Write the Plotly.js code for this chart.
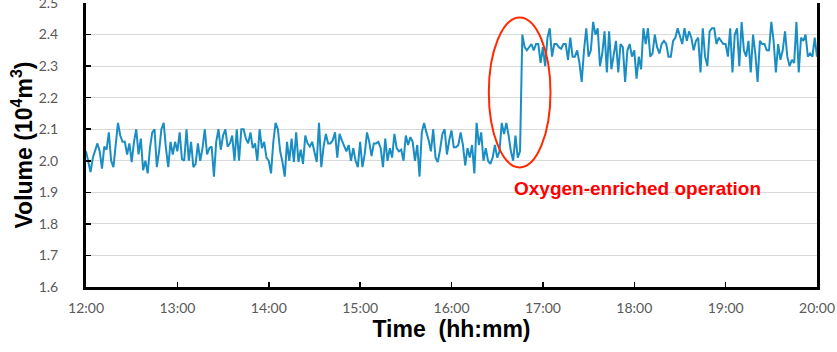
<!DOCTYPE html>
<html>
<head>
<meta charset="utf-8">
<script src="https://cdn.plot.ly/plotly-3.0.1.min.js"></script>
<style>
  html, body { margin: 0; padding: 0; background: #ffffff; }
  #chart { width: 837px; height: 352px; }
</style>
</head>
<body>
<div id="chart"></div>
<script>
// Gas volume readings, one every 1.5 minutes, grouped by hour (hh:00 .. hh:58.5)
const vol12 = [2.03, 2.0, 1.964, 2.01, 2.03, 2.055, 2.03, 1.975, 2.045, 2.035,
               2.09, 2.0, 1.98, 2.05, 2.12, 2.08, 2.06, 2.06, 2.02, 2.055,
               1.996, 2.06, 2.1, 2.02, 2.07, 1.97, 2.0, 1.96, 2.04, 2.09,
               2.1, 1.98, 2.03, 2.1, 2.12, 2.04, 1.98, 2.06, 2.02, 2.06];
const vol13 = [2.03, 2.09, 2.006, 2.0, 2.1, 2.0, 2.06, 1.98, 1.99, 2.055,
               2.0, 2.04, 2.1, 2.02, 2.04, 2.045, 1.95, 2.06, 2.1, 2.035,
               2.08, 2.1, 2.045, 2.055, 2.08, 2.0, 2.1, 2.0, 2.1, 2.1,
               2.07, 2.055, 2.09, 2.04, 2.055, 2.0, 2.1, 2.04, 2.06, 2.01];
const vol14 = [2.0, 1.96, 2.06, 2.12, 2.10, 2.03, 1.996, 1.95, 2.06, 2.0,
               2.07, 1.996, 2.09, 1.996, 2.035, 1.99, 2.08, 2.055, 2.045, 2.06,
               2.03, 1.996, 2.12, 1.98, 2.045, 2.085, 2.055, 2.055, 2.065, 2.09,
               2.01, 2.085, 2.065, 2.045, 2.03, 2.05, 2.0, 2.04, 2.0, 1.98];
const vol15 = [2.06, 1.98, 2.02, 2.09, 2.06, 2.015, 2.055, 2.055, 2.06, 2.04,
               1.98, 2.07, 2.0, 2.04, 2.01, 2.085, 2.04, 2.03, 2.035, 2.0,
               2.08, 2.05, 2.075, 2.06, 2.0, 2.05, 1.95, 2.09, 2.12, 2.09,
               2.065, 2.03, 2.10, 2.01, 1.996, 2.035, 2.085, 2.10, 2.02, 2.065];
const vol16 = [2.096, 2.043, 2.043, 2.05, 2.09, 2.05, 1.985, 2.04, 2.01, 2.05,
               1.96, 2.12, 2.05, 2.09, 2.0, 2.04, 2.0, 1.99, 2.01, 2.05,
               2.01, 2.03, 2.12, 2.085, 2.12, 2.08, 2.03, 2.0, 2.08, 2.01,
               2.03, 2.40, 2.36, 2.35, 2.36, 2.37, 2.35, 2.37, 2.37, 2.31];
const vol17 = [2.36, 2.30, 2.39, 2.42, 2.33, 2.37, 2.37, 2.36, 2.355, 2.37,
               2.37, 2.32, 2.39, 2.33, 2.33, 2.35, 2.31, 2.25, 2.35, 2.42,
               2.33, 2.35, 2.44, 2.40, 2.42, 2.30, 2.34, 2.41, 2.28, 2.41,
               2.29, 2.34, 2.38, 2.28, 2.37, 2.36, 2.25, 2.35, 2.37, 2.33];
const vol18 = [2.35, 2.26, 2.33, 2.29, 2.42, 2.37, 2.42, 2.33, 2.34, 2.40,
               2.36, 2.34, 2.37, 2.38, 2.37, 2.33, 2.33, 2.38, 2.39, 2.42,
               2.39, 2.37, 2.42, 2.38, 2.41, 2.39, 2.35, 2.38, 2.39, 2.28,
               2.42, 2.33, 2.30, 2.41, 2.42, 2.42, 2.37, 2.39, 2.38, 2.37];
const vol19 = [2.37, 2.33, 2.42, 2.28, 2.40, 2.42, 2.30, 2.44, 2.35, 2.33,
               2.38, 2.28, 2.40, 2.34, 2.25, 2.38, 2.37, 2.37, 2.35, 2.35,
               2.44, 2.38, 2.28, 2.37, 2.32, 2.35, 2.41, 2.33, 2.30, 2.32,
               2.31, 2.44, 2.28, 2.39, 2.38, 2.40, 2.33, 2.34, 2.33, 2.39];
const vol20 = [2.33];

const hourBlocks = [[12, vol12], [13, vol13], [14, vol14], [15, vol15],
                    [16, vol16], [17, vol17], [18, vol18], [19, vol19], [20, vol20]];
const stepSeconds = 90;
const day = '2024-01-01';

const tickLabels = ['12:00', '13:00', '14:00', '15:00', '16:00', '17:00', '18:00', '19:00', '20:00'];
const yTicks = [1.6, 1.7, 1.8, 1.9, 2.0, 2.1, 2.2, 2.3, 2.4, 2.5];

const noteText = 'Oxygen-enriched operation';
const noteAt = { t: '18:02:00', v: 1.912 };
// Ring around the switch-over
const ring = { t0: '16:24:30', t1: '17:05:00', v0: 1.979, v1: 2.454 };

function pad(n) { return String(n).padStart(2, '0'); }
function stamp(h, sec) {
  const m = Math.floor(sec / 60), s = sec % 60;
  return `${day} ${pad(h + Math.floor(m / 60))}:${pad(m % 60)}:${pad(s)}`;
}

const times = [], volumes = [];
hourBlocks.forEach(([h, vals]) => {
  vals.forEach((v, i) => {
    times.push(stamp(h, i * stepSeconds));
    volumes.push(v);
  });
});

const trace = {
  x: times,
  y: volumes,
  type: 'scatter',
  mode: 'lines',
  line: { color: '#1a8ec3', width: 2 },
  hoverinfo: 'skip'
};

const tickFont = { family: 'Lato, "Liberation Sans", sans-serif', size: 14, color: '#595959' };
const titleFont = { family: '"Liberation Sans", Arial, sans-serif', size: 23, color: '#000000' };

const layout = {
  width: 837,
  height: 352,
  margin: { l: 86, r: 20, t: 3, b: 65 },
  paper_bgcolor: '#ffffff',
  plot_bgcolor: '#ffffff',
  showlegend: false,
  xaxis: {
    type: 'date',
    range: [`${day} 12:00:00`, `${day} 20:00:00`],
    tickvals: tickLabels.map(t => `${day} ${t}:00`),
    ticktext: tickLabels,
    ticks: 'inside',
    ticklen: 5,
    tickwidth: 1.5,
    tickcolor: '#000000',
    showline: true,
    linecolor: '#000000',
    linewidth: 3,
    showgrid: false,
    zeroline: false,
    tickfont: tickFont,
    ticklabelstandoff: 6,
    ticklabeloverflow: 'allow',
    title: { text: '<b>Time  (hh:mm)</b>', font: titleFont, standoff: 6 }
  },
  yaxis: {
    range: [1.6, 2.5],
    tickvals: yTicks,
    ticktext: yTicks.map(v => v.toFixed(1)),
    ticks: 'inside',
    ticklen: 5,
    tickwidth: 1.5,
    tickcolor: '#000000',
    showline: true,
    mirror: true,
    linecolor: '#000000',
    linewidth: 3,
    showgrid: true,
    gridcolor: '#d9d9d9',
    gridwidth: 1,
    zeroline: false,
    tickfont: tickFont,
    ticklabelstandoff: 22,
    ticklabeloverflow: 'allow',
    title: { text: '<b>Volume (10<sup>4</sup>m<sup>3</sup>)</b>', font: titleFont, standoff: 0 }
  },
  shapes: [{
    type: 'circle',
    xref: 'x', yref: 'y',
    x0: `${day} ${ring.t0}`, x1: `${day} ${ring.t1}`,
    y0: ring.v0, y1: ring.v1,
    line: { color: '#ff2a00', width: 2 }
  }],
  annotations: [{
    x: `${day} ${noteAt.t}`, y: noteAt.v,
    xref: 'x', yref: 'y',
    text: '<b>' + noteText + '</b>',
    showarrow: false,
    xanchor: 'center', yanchor: 'middle',
    font: { family: '"Liberation Sans", Arial, sans-serif', size: 19, color: '#ff0000' }
  }]
};

Plotly.newPlot('chart', [trace], layout, { staticPlot: true, displayModeBar: false });
</script>
</body>
</html>
